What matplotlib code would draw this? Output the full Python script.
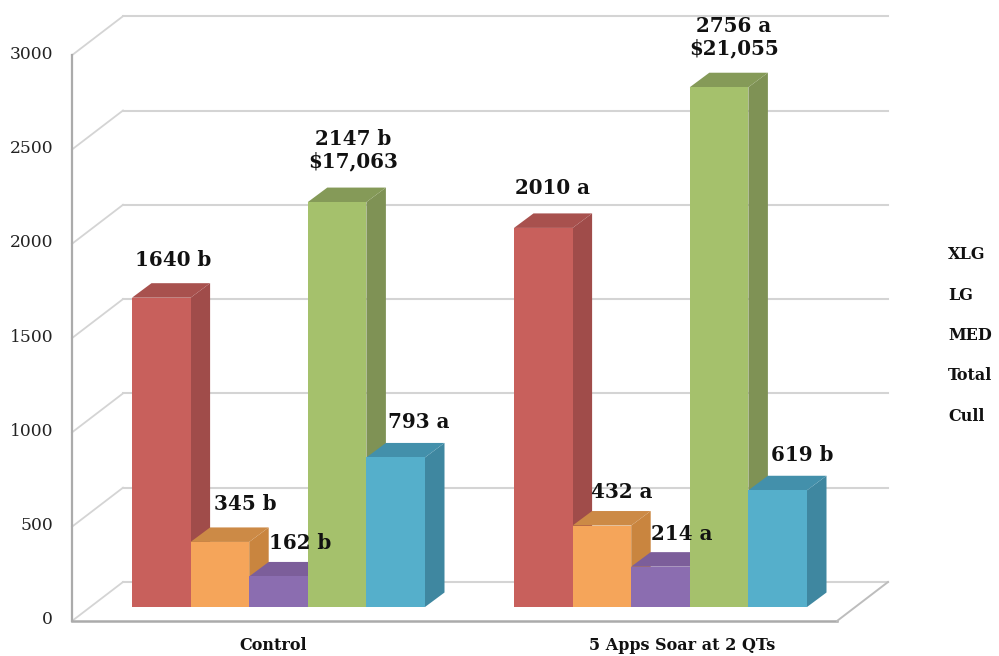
import matplotlib
matplotlib.use("Agg")
import matplotlib.pyplot as plt
from matplotlib.patches import Polygon

categories = ["Control", "5 Apps Soar at 2 QTs"]
series = ["XLG", "LG", "MED", "Total", "Cull"]
control = [1640, 345, 162, 2147, 793]
soar = [2010, 432, 214, 2756, 619]
control_labels = ["1640 b", "345 b", "162 b", "2147 b\n$17,063", "793 a"]
soar_labels = ["2010 a", "432 a", "214 a", "2756 a\n$21,055", "619 b"]
y_ticks = [0, 500, 1000, 1500, 2000, 2500, 3000]

front_cols = ["#C8605C", "#F5A55A", "#8B6DB0", "#A5C16C", "#55AFCB"]
side_cols = ["#A04C4A", "#C9853F", "#75598F", "#7F9255", "#3F87A0"]
top_cols = ["#A8514E", "#CC8A46", "#7C5E9A", "#859A58", "#4390AB"]

# label offsets from the top centre of each bar, in pixels
control_off = [(12, 38), (25, 38), (22, 33), (16, 52), (23, 35)]
soar_off = [(9, 40), (20, 34), (21, 33), (15, 50), (24, 35)]

PX_X = 1 / 382  # one pixel in x units (groups are 382 px apart)
PX_Y = 1 / 0.1886  # one pixel in y units
ORIGIN_X = 278.5  # pixel x of the first group centre
BAR_W = 58.6 * PX_X
DEPTH_X = 19.5 * PX_X
DEPTH_Y = 14.5 * PX_Y
BACK_Y = 25 * PX_Y  # back wall floor sits above the bar fronts
FRONT_Y = -14 * PX_Y  # front floor edge sits below them
GRID = "#D4D4D4"
SERIF = "DejaVu Serif"


def px(x):
    return (x - ORIGIN_X) * PX_X


fig = plt.figure(figsize=(9.99, 6.56), dpi=100)
ax = fig.add_axes([0, 0, 1, 1])
ax.set_xlim(px(0), px(999))
ax.set_ylim(-(656 - 607) * PX_Y, 607 * PX_Y)
ax.axis("off")

front_l, back_l = px(72), px(123)
front_r, back_r = px(837), px(888)

# back wall lines and the slanted ones on the left wall
for v in y_ticks:
    ax.plot([back_l, back_r], [v + BACK_Y, v + BACK_Y], color=GRID, lw=1.5, zorder=1)
    ax.plot([front_l, back_l], [v + FRONT_Y, v + BACK_Y], color=GRID, lw=1.3, zorder=1)
    ax.text(px(53), v + FRONT_Y + 1 * PX_Y, f"{v}", ha="right", va="center",
            family=SERIF, fontsize=12.3, color="#222222")

ax.plot([front_l, front_l], [FRONT_Y, 3000 + FRONT_Y], color="#ABABAB", lw=1.6, zorder=2)
ax.plot([front_l, front_r], [FRONT_Y, FRONT_Y], color="#ABABAB", lw=1.8, zorder=2)
ax.plot([front_r, back_r], [FRONT_Y, BACK_Y], color="#BDBDBD", lw=1.4, zorder=2)


def draw_group(center, values, labels, offsets):
    z = 3
    for i, v in enumerate(values):
        x0 = center + (i - 2.5) * BAR_W
        x1 = x0 + BAR_W
        ax.add_patch(Polygon([(x1, 0), (x1 + DEPTH_X, DEPTH_Y), (x1 + DEPTH_X, v + DEPTH_Y), (x1, v)],
                             fc=side_cols[i], ec="none", zorder=z))
        ax.add_patch(Polygon([(x0, v), (x0 + DEPTH_X, v + DEPTH_Y), (x1 + DEPTH_X, v + DEPTH_Y), (x1, v)],
                             fc=top_cols[i], ec="none", zorder=z))
        ax.bar(x0, v, width=BAR_W, align="edge", color=front_cols[i], zorder=z + 0.1)
        z += 1
    for i, v in enumerate(values):
        xc = center + (i - 2) * BAR_W
        ax.annotate(labels[i], (xc, v), xytext=offsets[i], textcoords="offset pixels",
                    ha="center", va="center", family=SERIF, fontweight="bold", fontsize=14.3,
                    color="#111111", zorder=20, linespacing=1.15)


draw_group(0, control, control_labels, control_off)
draw_group(1, soar, soar_labels, soar_off)

# category names below the floor
ax.text(px(273), -38.5 * PX_Y, categories[0], ha="center", va="center", family=SERIF,
        fontweight="bold", fontsize=11.5, color="#111111")
ax.text(px(682), -38.5 * PX_Y, categories[1], ha="center", va="center", family=SERIF,
        fontweight="bold", fontsize=11.5, color="#111111")

# legend text only, the keys are not shown in the picture
for i, name in enumerate(series):
    ax.text(px(948), (607 - 254.5 - i * 40.5) * PX_Y, name, ha="left", va="center", family=SERIF,
            fontweight="bold", fontsize=11.5, color="#111111")

fig.savefig("out.png", dpi=100)
